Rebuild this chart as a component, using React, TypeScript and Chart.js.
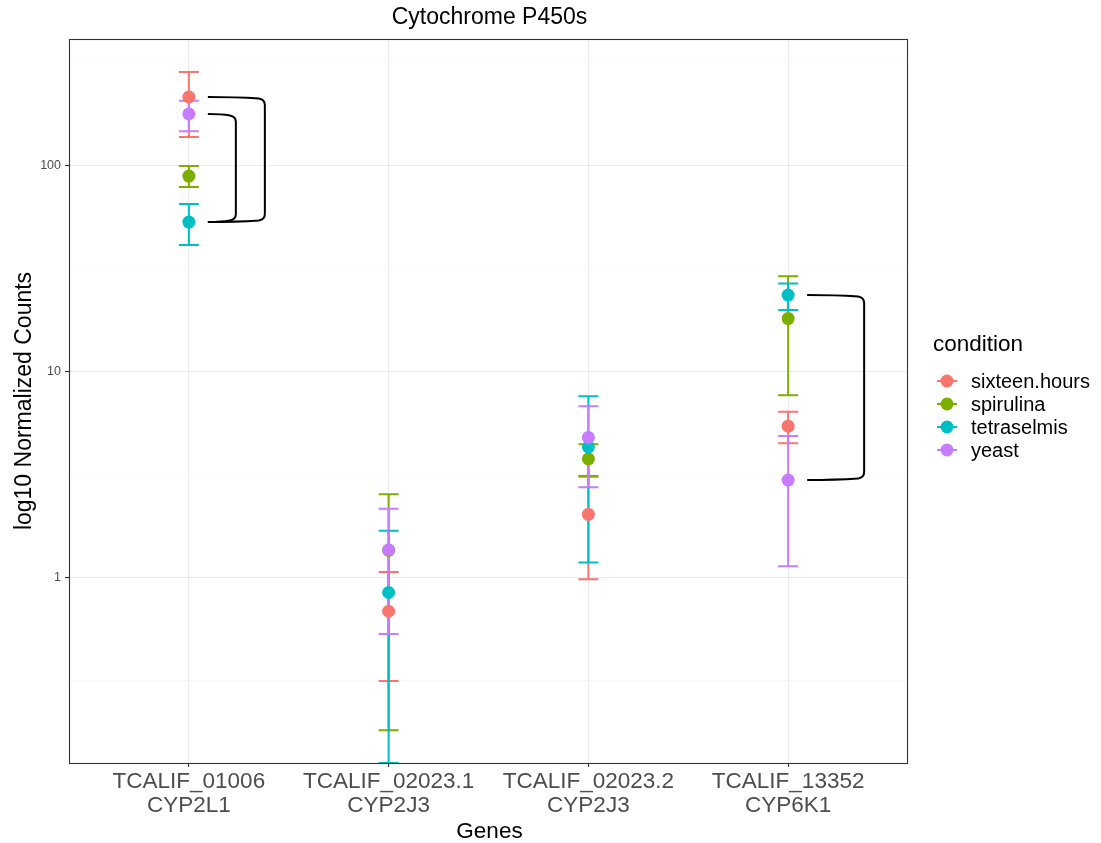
import React, { useEffect, useRef } from 'react';
import { Chart, registerables } from 'chart.js';

Chart.register(...registerables);

// ---------- data ----------
const genes = ['TCALIF_01006', 'TCALIF_02023.1', 'TCALIF_02023.2', 'TCALIF_13352'];
const geneNames = ['CYP2L1', 'CYP2J3', 'CYP2J3', 'CYP6K1'];
const conditions = ['sixteen.hours', 'spirulina', 'tetraselmis', 'yeast'];
const colors = ['#F8766D', '#7CAE00', '#00BFC4', '#C77CFF'];

// mean normalized counts per condition (order of genes)
const sixteenMean = [214, 0.684, 2.02, 5.41];
const spirulinaMean = [88.4, 1.35, 3.75, 18.0];
const tetraselmisMean = [52.9, 0.843, 4.29, 23.4];
const yeastMean = [177, 1.36, 4.77, 2.96];

// lower error bar (0 = below zero -> -Inf on log scale)
const sixteenLow = [137, 0.314, 0.978, 4.47];
const spirulinaLow = [78.2, 0.181, 3.1, 7.65];
const tetraselmisLow = [40.9, 0, 1.18, 19.8];
const yeastLow = [146, 0.531, 2.73, 1.13];

// upper error bar
const sixteenHigh = [283, 1.06, 3.07, 6.35];
const spirulinaHigh = [98.9, 2.53, 4.42, 28.9];
const tetraselmisHigh = [64.7, 1.68, 7.56, 26.6];
const yeastHigh = [205, 2.15, 6.76, 4.84];

const means = [sixteenMean, spirulinaMean, tetraselmisMean, yeastMean];
const lows = [sixteenLow, spirulinaLow, tetraselmisLow, yeastLow];
const highs = [sixteenHigh, spirulinaHigh, tetraselmisHigh, yeastHigh];

// y axis
const yMajorTicks = [1, 10, 100];
const yMinorTicks = [0.316228, 3.16228, 31.6228, 316.228];
const yMin = 0.1255;
const yMax = 409;

// significance brackets: gene index, from condition, to condition
const bracketGene = [0, 0, 3];
const bracketFrom = ['sixteen.hours', 'yeast', 'tetraselmis'];
const bracketTo = ['tetraselmis', 'tetraselmis', 'yeast'];

// ---------- layout / style ----------
const W = 1101;
const H = 843;
const PANEL_LEFT = 69;
const PANEL_RIGHT = 908;
const PANEL_TOP = 39;
const PANEL_BOTTOM = 763;
const FONT = "'Liberation Sans', Arial, sans-serif";
const BRACKET_START = 19;
const BRACKET_REACH = [76, 47, 76];

function drawBracket(ctx: CanvasRenderingContext2D, x0: number, xv: number, yTop: number, yBot: number) {
  const r = 6;
  ctx.beginPath();
  ctx.moveTo(x0, yTop);
  ctx.quadraticCurveTo((x0 + xv) / 2, yTop, xv - r, yTop + 1.5);
  ctx.quadraticCurveTo(xv, yTop + 2.5, xv, yTop + r + 2);
  ctx.lineTo(xv, yBot - r - 2);
  ctx.quadraticCurveTo(xv, yBot - 2.5, xv - r, yBot - 1.5);
  ctx.quadraticCurveTo((x0 + xv) / 2, yBot, x0, yBot);
  ctx.stroke();
}

const errorBarPlugin = {
  id: 'errorBars',
  beforeDatasetsDraw(chart: any) {
    const { ctx, chartArea } = chart;
    const xs = chart.scales.x;
    const ys = chart.scales.y;
    ctx.save();
    ctx.beginPath();
    ctx.rect(chartArea.left, chartArea.top, chartArea.right - chartArea.left, chartArea.bottom - chartArea.top);
    ctx.clip();
    const toPx = (v: number) => (v > 0 ? ys.getPixelForValue(v) : chartArea.bottom);
    conditions.forEach((_c, ci) => {
      ctx.strokeStyle = colors[ci];
      ctx.lineWidth = 2;
      genes.forEach((_g, gi) => {
        const px = xs.getPixelForValue(gi + 1);
        const yLo = toPx(lows[ci][gi]);
        const yHi = toPx(highs[ci][gi]);
        ctx.beginPath();
        ctx.moveTo(px, yLo);
        ctx.lineTo(px, yHi);
        ctx.moveTo(px - 10, yLo);
        ctx.lineTo(px + 10, yLo);
        ctx.moveTo(px - 10, yHi);
        ctx.lineTo(px + 10, yHi);
        ctx.stroke();
      });
    });
    ctx.restore();
  },
  afterDatasetsDraw(chart: any) {
    const { ctx } = chart;
    const xs = chart.scales.x;
    const ys = chart.scales.y;
    ctx.save();
    ctx.strokeStyle = '#000000';
    ctx.lineWidth = 2;
    bracketGene.forEach((g, i) => {
      const px = xs.getPixelForValue(g + 1);
      const a = ys.getPixelForValue(means[conditions.indexOf(bracketFrom[i])][g]);
      const b = ys.getPixelForValue(means[conditions.indexOf(bracketTo[i])][g]);
      drawBracket(ctx, px + BRACKET_START, px + BRACKET_REACH[i], Math.min(a, b), Math.max(a, b));
    });
    ctx.restore();
  },
};

const decorPlugin = {
  id: 'decor',
  afterDraw(chart: any) {
    const { ctx, chartArea } = chart;
    ctx.save();
    // panel border
    ctx.strokeStyle = '#333333';
    ctx.lineWidth = 1.1;
    ctx.strokeRect(chartArea.left + 0.5, chartArea.top + 0.5, chartArea.right - chartArea.left - 1, chartArea.bottom - chartArea.top);
    const cx = (chartArea.left + chartArea.right) / 2;
    const cy = (chartArea.top + chartArea.bottom) / 2;
    ctx.fillStyle = '#000000';
    ctx.textAlign = 'center';
    ctx.textBaseline = 'middle';
    // title
    ctx.font = `23px ${FONT}`;
    ctx.fillText('Cytochrome P450s', cx + 1, 18);
    // x title
    ctx.font = `22.5px ${FONT}`;
    ctx.fillText('Genes', cx + 1, 832);
    // y title
    ctx.save();
    ctx.translate(25, cy);
    ctx.rotate(-Math.PI / 2);
    ctx.font = `23px ${FONT}`;
    ctx.fillText('log10 Normalized Counts', 0, 0);
    ctx.restore();
    // legend
    ctx.textAlign = 'left';
    ctx.font = `22.5px ${FONT}`;
    ctx.fillText('condition', 933, 345);
    conditions.forEach((c, i) => {
      const y = 381 + i * 23;
      ctx.strokeStyle = colors[i];
      ctx.lineWidth = 2;
      ctx.beginPath();
      ctx.moveTo(937, y);
      ctx.lineTo(957, y);
      ctx.stroke();
      ctx.fillStyle = colors[i];
      ctx.beginPath();
      ctx.arc(947, y, 6.5, 0, Math.PI * 2);
      ctx.fill();
      ctx.fillStyle = '#000000';
      ctx.font = `20px ${FONT}`;
      ctx.fillText(c, 971, y + 1);
    });
    ctx.restore();
  },
};

const isMajor = (v: number) => yMajorTicks.some((t) => Math.abs(t - v) / t < 1e-6);

export default function App() {
  const ref = useRef<HTMLCanvasElement>(null);
  useEffect(() => {
    const canvas = ref.current;
    if (!canvas) return;
    const datasets = conditions.map((c, ci) => ({
      label: c,
      data: genes.map((_g, gi) => ({ x: gi + 1, y: means[ci][gi] })),
      backgroundColor: colors[ci],
      borderColor: colors[ci],
      borderWidth: 0,
      pointRadius: 6.5,
      pointHoverRadius: 6.5,
      showLine: false,
      // later conditions are drawn on top (as in ggplot)
      order: conditions.length - 1 - ci,
    }));
    const chart = new Chart(canvas, {
      type: 'scatter',
      data: { datasets },
      options: {
        responsive: false,
        animation: false,
        devicePixelRatio: 1,
        layout: { padding: { left: 0, top: PANEL_TOP, right: W - PANEL_RIGHT, bottom: 0 } },
        plugins: {
          legend: { display: false },
          tooltip: { enabled: false },
          title: { display: false },
        },
        scales: {
          x: {
            type: 'linear',
            min: 0.4,
            max: 4.6,
            afterBuildTicks: (s: any) => {
              s.ticks = genes.map((_g, i) => ({ value: i + 1 }));
            },
            afterFit: (s: any) => {
              s.height = H - PANEL_BOTTOM;
            },
            ticks: {
              autoSkip: false,
              maxRotation: 0,
              minRotation: 0,
              padding: 3,
              color: '#4D4D4D',
              font: { family: FONT, size: 22.5, lineHeight: 1.067 },
              callback: (v: any) => {
                const i = Math.round(Number(v)) - 1;
                return [genes[i], geneNames[i]];
              },
            },
            grid: {
              color: '#EBEBEB',
              lineWidth: 1.1,
              drawTicks: true,
              tickLength: 4,
              tickColor: '#333333',
            },
            border: { display: false },
          },
          y: {
            type: 'logarithmic',
            min: yMin,
            max: yMax,
            afterBuildTicks: (s: any) => {
              s.ticks = [...yMinorTicks, ...yMajorTicks].sort((a, b) => a - b).map((v) => ({ value: v }));
            },
            afterFit: (s: any) => {
              s.width = PANEL_LEFT;
            },
            ticks: {
              autoSkip: false,
              padding: 4,
              color: '#4D4D4D',
              font: { family: FONT, size: 12.5 },
              callback: (v: any) => (isMajor(Number(v)) ? String(Number(v)) : ''),
            },
            grid: {
              color: (ctx: any) => (ctx.tick && isMajor(ctx.tick.value) ? '#EBEBEB' : '#F3F3F3'),
              lineWidth: (ctx: any) => (ctx.tick && isMajor(ctx.tick.value) ? 1.1 : 0.6),
              drawTicks: true,
              tickLength: 4,
              tickColor: (ctx: any) => (ctx.tick && isMajor(ctx.tick.value) ? '#333333' : 'rgba(0,0,0,0)'),
            },
            border: { display: false },
          },
        },
      } as any,
      plugins: [errorBarPlugin, decorPlugin],
    });
    return () => chart.destroy();
  }, []);
  return (
    <div style={{ position: 'absolute', left: 0, top: 0, width: W, height: H, background: '#ffffff' }}>
      <canvas ref={ref} width={W} height={H} style={{ display: 'block', width: W, height: H }} />
    </div>
  );
}
